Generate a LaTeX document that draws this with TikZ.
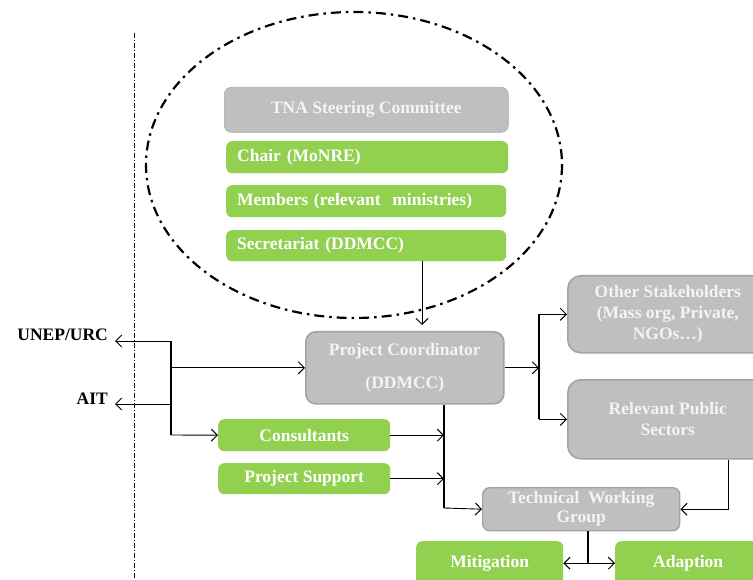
\documentclass[tikz,border=0pt]{standalone}
\usepackage{fontspec}
\usetikzlibrary{arrows.meta}
\setmainfont{Liberation Serif}
\definecolor{gfill}{HTML}{92D050}
\definecolor{grfill}{HTML}{BFBFBF}
\definecolor{grline}{HTML}{A3A3A3}
\definecolor{grtext}{HTML}{F4F4F4}
\begin{document}
\begin{tikzpicture}[x=1pt,y=-1pt,
  every node/.style={font=\fontsize{17.5}{21}\selectfont\bfseries},
  boxbase/.style={anchor=north west,inner sep=0pt,align=center},
  gbox/.style={boxbase,fill=gfill,rounded corners=6pt,text=white},
  gleft/.style={gbox,align=left,inner xsep=11pt},
  graybox/.style={boxbase,fill=grfill,draw=grline,line width=1.6pt,rounded corners=10pt,text=grtext},
  lbl/.style={anchor=base east,inner sep=0pt,text=black},
  tip/.tip={Straight Barb[length=6pt,width=12pt,line width=1pt]},
  arr/.style={-tip,line width=0.9pt},
  dbl/.style={tip-tip,line width=0.9pt},
  bar/.style={line width=1.8pt},
]
\useasboundingbox (0,0) rectangle (753,580);
% dash-dot separator and ellipse
\draw[line width=0.8pt,dash pattern=on 5pt off 2pt on 1pt off 2pt] (134,33) -- (134,580);
\draw[line width=2.2pt,dash pattern=on 10pt off 5pt on 2.5pt off 5pt] (354,165) ellipse [x radius=208, y radius=153];
% steering committee
\node[boxbase,fill=grfill,draw=grfill!90!black,line width=0.6pt,rounded corners=7pt,text=grtext,minimum width=284pt,minimum height=45pt] (tna) at (224,87) {TNA Steering Committee};
\node[gleft,text width=260pt,minimum height=32pt] (chair) at (226,141) {Chair (MoNRE)};
\node[gleft,text width=258pt,minimum height=32pt] (memb) at (226,185) {Members (relevant\ \ ministries)};
\node[gleft,text width=258pt,minimum height=31pt] (sec) at (226,230) {Secretariat (DDMCC)};
% main boxes
\node[graybox,minimum width=198pt,minimum height=72pt] (pc) at (305,331) {Project Coordinator\\[12pt](DDMCC)};
\node[graybox,minimum width=200pt,minimum height=77pt,rounded corners=13pt] (os) at (567,275) {Other Stakeholders\\(Mass org, Private,\\NGOs\dots)};
\node[graybox,minimum width=200pt,minimum height=79pt,rounded corners=13pt] (rps) at (567,379) {Relevant Public\\Sectors};
\node[gbox,minimum width=172pt,minimum height=32pt] (cons) at (218,419) {Consultants};
\node[gbox,minimum width=172pt,minimum height=31pt] (ps) at (218,463) {Project Support};
\node[graybox,minimum width=197pt,minimum height=43pt,rounded corners=7pt,line width=1.4pt] (twg) at (482,487) {Technical\ \ Working\\[-2pt]Group};
\node[gbox,minimum width=147pt,minimum height=44pt] (mit) at (416,541) {Mitigation};
\node[gbox,minimum width=146pt,minimum height=44pt] (ada) at (615,541) {Adaption};
% labels
\node[lbl] (unep) at (108,341) {UNEP/URC};
\node[lbl] (ait) at (108,404) {AIT};
% connectors
\coordinate (lt) at (171,341);
\coordinate (lb) at (171,435);
\draw[bar] (lt) -- (lb);
\draw[arr,shorten >=7pt] (lt) -- (unep.base east);
\draw[arr,shorten >=7pt] (lt |- ait.base) -- (ait.base east);
\draw[arr] (lt |- pc.west) -- (pc.west);
\draw[arr] (lb) -- (cons.west);
\coordinate (secx) at (422,0);
\draw[arr,shorten >=6pt] (secx |- sec.south) -- (secx |- pc.north);
\coordinate (rb) at (539,0);
\draw[arr] (pc.east) -- (rb |- pc.east);
\draw[bar] (rb |- os.west) -- (rb |- rps.west);
\draw[arr] (rb |- os.west) -- (os.west);
\draw[arr] (rb |- rps.west) -- (rps.west);
\coordinate (mb) at (444,508);
\draw[bar] (mb |- pc.south) -- (mb);
\draw[arr] (mb) -- (twg.west);
\draw[arr] (cons.east) -- (mb |- cons.east);
\draw[arr] (ps.east) -- (mb |- ps.east);
\coordinate (rr) at (728,0);
\draw[arr] (rr |- rps.south) |- (twg.east);
\coordinate (ts) at (588,563);
\draw[bar] (ts |- twg.south) -- (ts);
\draw[dbl] (mit.east) -- (ada.west);
\end{tikzpicture}
\end{document}
